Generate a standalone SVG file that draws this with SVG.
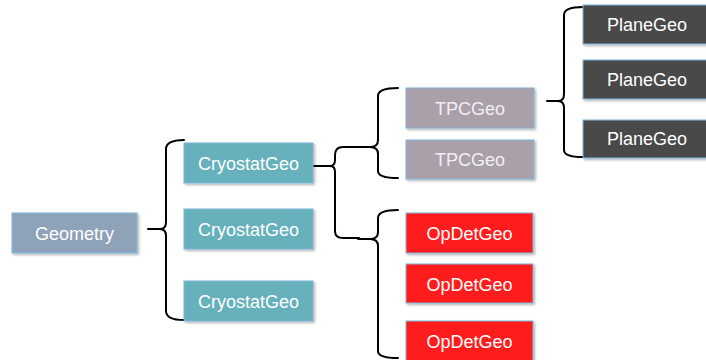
<svg xmlns="http://www.w3.org/2000/svg" width="706" height="360" viewBox="0 0 706 360">
<defs>
<filter id="sh" x="-10%" y="-10%" width="130%" height="140%">
<feDropShadow dx="1.5" dy="1.5" stdDeviation="1" flood-color="#000" flood-opacity="0.3"/>
</filter>
<style>
.box{stroke:#7fb6da;stroke-width:1;filter:url(#sh)}
.geo{fill:#8ea2b8}
.cry{fill:#66b1bb}
.tpc{fill:#aaa0aa}
.op{fill:#ff1e1e}
.pl{fill:#4a4a4a}
text{font-family:"Liberation Sans",Arial,sans-serif;font-size:18px;fill:#fff;text-anchor:middle;dominant-baseline:central}
.tt{fill:#f2eef2}
.br{fill:none;stroke:#000;stroke-width:2;stroke-linecap:round;stroke-linejoin:round}
</style>
</defs>
<rect width="706" height="360" fill="#fff"/>
<g id="connectors">
<path class="br" d="M184,140 Q166,140 166,149 L166,222 Q166,229 160,229 Q166,229 166,236 L166,311 Q166,320 184,320 M148,229 L162,229"/>
<path class="br" d="M313,166 L329,166 M359,147 L343,147 Q335,147 335,155 L335,160 Q335,166 330,166 Q335,166 335,172 L335,231 Q335,238 343,238 L359,238"/>
<path class="br" d="M398,88 Q378,88 378,96 L378,140 Q378,147 370,147 L358,147 M370,147 Q378,147 378,154 L378,171 Q378,178 398,178"/>
<path class="br" d="M398,210 Q378,210 378,218 L378,232 Q378,239 370,239 L358,239 M370,239 Q378,239 378,246 L378,351 Q378,358 398,358"/>
<path class="br" d="M583,7 Q564,7 564,15 L564,94 Q564,101 558,101 Q564,101 564,108 L564,150 Q564,157 583,157 M547,101 L560,101"/>
</g>
<g id="geometry"><rect class="box geo" x="12" y="213" width="125" height="40"/><text x="74.5" y="234">Geometry</text></g>
<g id="cryostat1"><rect class="box cry" x="184" y="143" width="129" height="40"/><text x="248.5" y="164">CryostatGeo</text></g>
<g id="cryostat2"><rect class="box cry" x="184" y="209" width="129" height="40"/><text x="248.5" y="230">CryostatGeo</text></g>
<g id="cryostat3"><rect class="box cry" x="184" y="281" width="129" height="40"/><text x="248.5" y="302">CryostatGeo</text></g>
<g id="tpc1"><rect class="box tpc" x="406" y="88" width="128" height="40"/><text class="tt" x="470" y="109">TPCGeo</text></g>
<g id="tpc2"><rect class="box tpc" x="406" y="140" width="128" height="39"/><text class="tt" x="470" y="160">TPCGeo</text></g>
<g id="opdet1"><rect class="box op" x="406" y="213" width="127" height="40"/><text x="469.5" y="234">OpDetGeo</text></g>
<g id="opdet2"><rect class="box op" x="406" y="264" width="127" height="39"/><text x="469.5" y="285">OpDetGeo</text></g>
<g id="opdet3"><rect class="box op" x="406" y="321" width="127" height="40"/><text x="469.5" y="342">OpDetGeo</text></g>
<g id="plane1"><rect class="box pl" x="583" y="5" width="128" height="39"/><text x="647" y="25">PlaneGeo</text></g>
<g id="plane2"><rect class="box pl" x="583" y="60" width="128" height="39"/><text x="647" y="80">PlaneGeo</text></g>
<g id="plane3"><rect class="box pl" x="583" y="120" width="128" height="38"/><text x="647" y="139">PlaneGeo</text></g>
</svg>
